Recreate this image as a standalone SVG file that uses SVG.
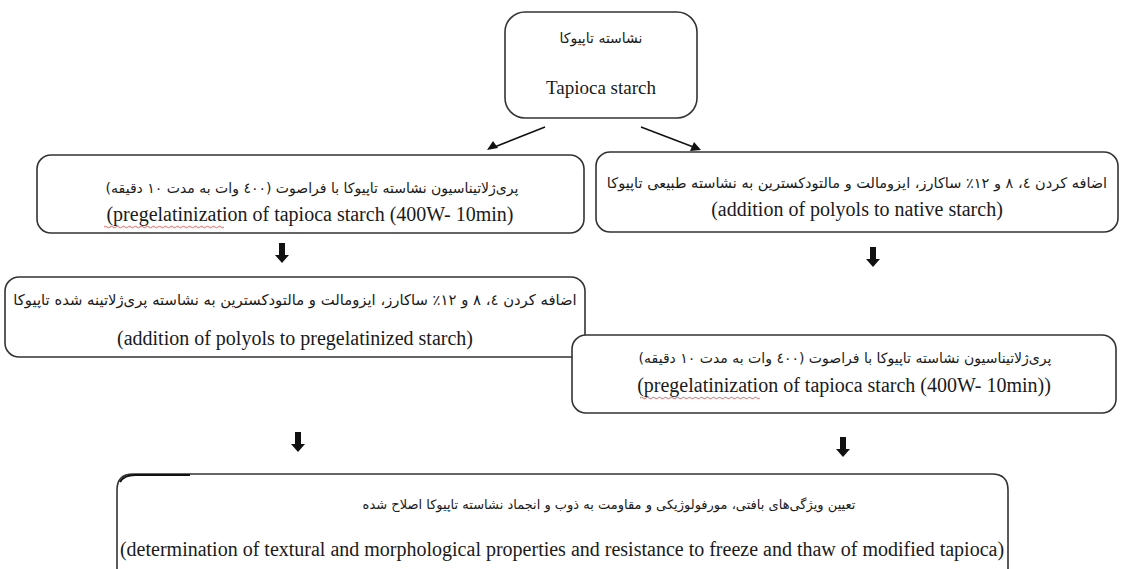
<svg xmlns="http://www.w3.org/2000/svg" width="1130" height="569" viewBox="0 0 1130 569">
<defs>
<style>
.box{fill:#fff;stroke:#333;stroke-width:1.6}
.en{font-family:'Liberation Serif','Times New Roman',serif;font-size:20px;fill:#1a1a1a;text-anchor:middle}
.fa{font-family:'DejaVu Sans','Noto Sans',sans-serif;font-size:14px;fill:#1a1a1a;text-anchor:middle}
.conn{stroke:#111;stroke-width:1.5;fill:none}
.blk{fill:#111}
.sq{fill:none;stroke:#d04040;stroke-width:0.8}
</style>
<path id="down" d="M-3,0 H3 V12 H7 L0,20 L-7,12 H-3 Z"/>
</defs>
<rect width="1130" height="569" fill="#fff"/>

<g id="connectors">
<line class="conn" x1="545" y1="127" x2="492" y2="148"/>
<path class="blk" d="M487,150 L493,141 L498,148 Z"/>
<line class="conn" x1="641" y1="127" x2="696" y2="148"/>
<path class="blk" d="M701,150 L690,151 L694,142 Z"/>
<use href="#down" class="blk" x="282" y="243"/>
<use href="#down" class="blk" x="873" y="247"/>
<use href="#down" class="blk" x="298" y="432"/>
<use href="#down" class="blk" x="843" y="437"/>
</g>

<g id="node-top">
<rect class="box" x="505" y="12" width="192" height="106" rx="20"/>
<text class="fa" x="601" y="43" direction="rtl">نشاسته تاپیوکا</text>
<text class="en" x="601" y="94" style="font-size:19px">Tapioca starch</text>
</g>

<g id="node-left1">
<rect class="box" x="37" y="155" width="547" height="78" rx="14"/>
<text class="fa" x="312" y="193" direction="rtl">پری‌ژلاتیناسیون نشاسته تاپیوکا با فراصوت (٤٠٠ وات به مدت ١٠ دقیقه)</text>
<text class="en" x="310" y="221">(pregelatinization of tapioca starch (400W- 10min)</text>
<path class="sq" d="M104,227 q1.5,-1.5 3,0 t3,0 t3,0 t3,0 t3,0 t3,0 t3,0 t3,0 t3,0 t3,0 t3,0 t3,0 t3,0 t3,0 t3,0 t3,0 t3,0 t3,0 t3,0 t3,0 t3,0 t3,0 t3,0 t3,0 t3,0 t3,0 t3,0 t3,0 t3,0 t3,0 t3,0 t3,0 t3,0 t3,0 t3,0 t3,0 t3,0 t3,0 t3,0 t3,0"/>
</g>

<g id="node-right1">
<rect class="box" x="596" y="152" width="522" height="80" rx="14"/>
<text class="fa" x="857" y="188" direction="rtl" style="font-size:14.5px">اضافه کردن ٤، ٨ و ١٢٪ ساکارز، ایزومالت و مالتودکسترین به نشاسته طبیعی تاپیوکا</text>
<text class="en" x="857" y="216">(addition of polyols to native starch)</text>
</g>

<g id="node-left2">
<rect class="box" x="5" y="277" width="580" height="80" rx="14"/>
<text class="fa" x="295" y="305" direction="rtl" style="font-size:14.8px">اضافه کردن ٤، ٨ و ١٢٪ ساکارز، ایزومالت و مالتودکسترین به نشاسته پری‌ژلاتینه شده تاپیوکا</text>
<text class="en" x="295" y="345">(addition of polyols to pregelatinized starch)</text>
</g>

<g id="node-right2">
<rect class="box" x="572" y="335" width="544" height="78" rx="14"/>
<text class="fa" x="845" y="363" direction="rtl">پری‌ژلاتیناسیون نشاسته تاپیوکا با فراصوت (٤٠٠ وات به مدت ١٠ دقیقه)</text>
<text class="en" x="844" y="392">(pregelatinization of tapioca starch (400W- 10min))</text>
<path class="sq" d="M640,398 q1.5,-1.5 3,0 t3,0 t3,0 t3,0 t3,0 t3,0 t3,0 t3,0 t3,0 t3,0 t3,0 t3,0 t3,0 t3,0 t3,0 t3,0 t3,0 t3,0 t3,0 t3,0 t3,0 t3,0 t3,0 t3,0 t3,0 t3,0 t3,0 t3,0 t3,0 t3,0 t3,0 t3,0 t3,0 t3,0 t3,0 t3,0 t3,0 t3,0 t3,0 t3,0"/>
</g>

<g id="node-bottom">
<path class="box" d="M117,580 V490 Q117,474 133,474 H992 Q1008,474 1008,490 V580"/>
<path d="M120,482 Q124,475 135,475 H190" fill="none" stroke="#111" stroke-width="2.2"/>
<text class="fa" x="609" y="509" direction="rtl" style="font-size:13px">تعیین ویژگی‌های بافتی، مورفولوژیکی و مقاومت به ذوب و انجماد نشاسته تاپیوکا اصلاح شده</text>
<text class="en" x="562" y="556">(determination of  textural and morphological properties and resistance to freeze and thaw of modified tapioca)</text>
</g>
</svg>
